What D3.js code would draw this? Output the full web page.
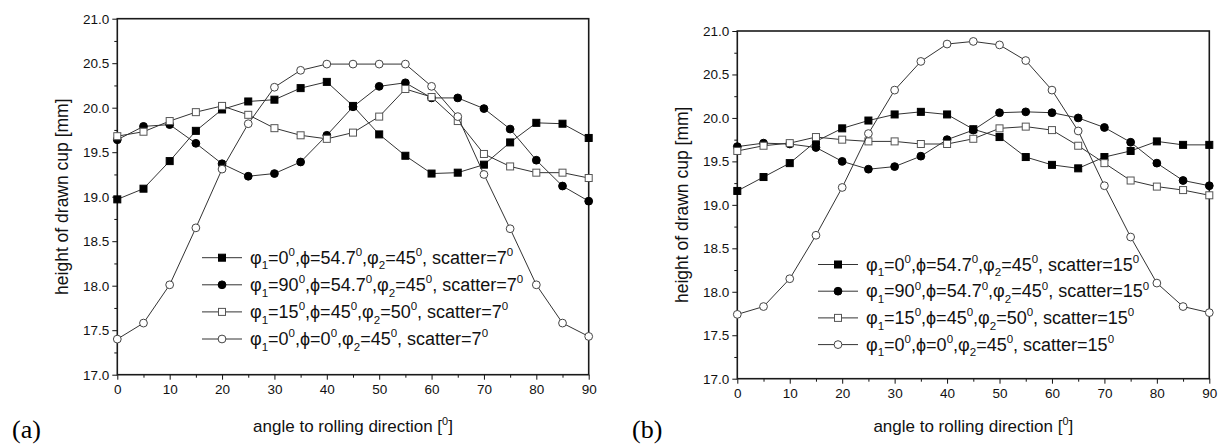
<!DOCTYPE html>
<html>
<head>
<meta charset="utf-8">
<script src="https://cdn.jsdelivr.net/npm/d3@7"></script>
<style>
  body { margin: 0; background: #fff; }
  svg { display: block; font-family: Arial, "Liberation Sans", sans-serif; }
</style>
</head>
<body>
<svg width="1223" height="447"></svg>
<script>
// angle to rolling direction, degrees
const angles = [0, 5, 10, 15, 20, 25, 30, 35, 40, 45, 50, 55, 60, 65, 70, 75, 80, 85, 90];

// (a) scatter = 7
const a_sq = [18.97, 19.09, 19.40, 19.74, 19.98, 20.07, 20.09, 20.22, 20.29, 20.02, 19.70, 19.46, 19.26, 19.27, 19.36, 19.61, 19.83, 19.82, 19.66];
const a_ci = [19.64, 19.79, 19.81, 19.60, 19.37, 19.23, 19.26, 19.39, 19.69, 20.01, 20.24, 20.28, 20.11, 20.11, 19.99, 19.76, 19.41, 19.12, 18.95];
const a_osq = [19.68, 19.73, 19.85, 19.95, 20.02, 19.92, 19.77, 19.69, 19.65, 19.72, 19.90, 20.21, 20.12, 19.85, 19.48, 19.34, 19.27, 19.27, 19.21];
const a_oci = [17.40, 17.58, 18.01, 18.65, 19.31, 19.82, 20.23, 20.42, 20.49, 20.49, 20.49, 20.49, 20.24, 19.90, 19.25, 18.64, 18.01, 17.58, 17.43];

// (b) scatter = 15
const b_sq = [19.16, 19.32, 19.48, 19.73, 19.88, 19.97, 20.04, 20.07, 20.04, 19.87, 19.78, 19.55, 19.46, 19.42, 19.55, 19.62, 19.73, 19.69, 19.69];
const b_ci = [19.67, 19.71, 19.70, 19.66, 19.50, 19.41, 19.44, 19.56, 19.75, 19.86, 20.06, 20.07, 20.06, 20.00, 19.89, 19.72, 19.48, 19.28, 19.22];
const b_osq = [19.62, 19.68, 19.71, 19.78, 19.75, 19.73, 19.73, 19.70, 19.70, 19.76, 19.88, 19.90, 19.86, 19.68, 19.48, 19.28, 19.21, 19.17, 19.11];
const b_oci = [17.74, 17.83, 18.15, 18.65, 19.20, 19.82, 20.32, 20.65, 20.85, 20.88, 20.84, 20.66, 20.32, 19.85, 19.22, 18.63, 18.10, 17.83, 17.76];

const xTicks = [0, 10, 20, 30, 40, 50, 60, 70, 80, 90];
const yTicks = [17.0, 17.5, 18.0, 18.5, 19.0, 19.5, 20.0, 20.5, 21.0];

// legend label pieces: [text, kind]
function legendParts(p1, phi, p2, scatter) {
  return [
    ["φ"], ["1", "sub"], ["=" + p1], ["0", "sup"],
    [",ϕ=" + phi], ["0", "sup"],
    [",φ"], ["2", "sub"], ["=" + p2], ["0", "sup"],
    [", scatter=" + scatter], ["0", "sup"],
  ];
}
const legendAngles = [
  ["0", "54.7", "45"],
  ["90", "54.7", "45"],
  ["15", "45", "50"],
  ["0", "0", "45"],
];
const markerTypes = ["square", "circle", "osquare", "ocircle"];

const panels = [
  { tag: "(a)", tagX: 12, left: 117.3, right: 588.7, top: 18.7, bottom: 374.7,
    legX: 202, legY: 257.7, legDy: 27.1, scatter: "7",
    series: [a_sq, a_ci, a_osq, a_oci] },
  { tag: "(b)", tagX: 632, left: 737.3, right: 1209.3, top: 31, bottom: 378.7,
    legX: 818, legY: 264.5, legDy: 26.7, scatter: "15",
    series: [b_sq, b_ci, b_osq, b_oci] },
];

const svg = d3.select("svg");

function richText(sel, parts, fs) {
  let cur = 0;
  parts.forEach(([t, kind]) => {
    const target = kind === "sup" ? -0.42 * fs : kind === "sub" ? 0.32 * fs : 0;
    sel.append("tspan")
      .attr("dy", target - cur)
      .attr("font-size", kind ? fs * 0.64 : fs)
      .text(t);
    cur = target;
  });
}

function drawMarker(g, type, x, y) {
  const s = 7, r = 3.9;
  if (type === "square" || type === "osquare") {
    g.append("rect")
      .attr("x", x - s / 2).attr("y", y - s / 2)
      .attr("width", s).attr("height", s)
      .attr("fill", type === "square" ? "#000" : "#fff")
      .attr("stroke", type === "square" ? "#000" : "#555")
      .attr("stroke-width", 1);
  } else {
    g.append("circle")
      .attr("cx", x).attr("cy", y).attr("r", r)
      .attr("fill", type === "circle" ? "#000" : "#fff")
      .attr("stroke", type === "circle" ? "#000" : "#444")
      .attr("stroke-width", 1);
  }
}

panels.forEach((p) => {
  const x = d3.scaleLinear().domain([0, 90]).range([p.left, p.right]);
  const y = d3.scaleLinear().domain([17, 21]).range([p.bottom, p.top]);
  const g = svg.append("g");

  // axes
  g.append("g").attr("transform", `translate(0,${p.bottom})`)
    .call(d3.axisBottom(x).tickValues(xTicks).tickFormat(d3.format("d")).tickSize(5).tickPadding(5));
  g.append("g").attr("transform", `translate(0,${p.bottom})`)
    .call(d3.axisBottom(x).tickValues(d3.range(5, 90, 10)).tickFormat("").tickSize(3));
  g.append("g").attr("transform", `translate(${p.left},0)`)
    .call(d3.axisLeft(y).tickValues(yTicks).tickFormat(d3.format(".1f")).tickSize(5).tickPadding(3));
  g.append("g").attr("transform", `translate(${p.left},0)`)
    .call(d3.axisLeft(y).tickValues(d3.range(17.25, 21, 0.5)).tickFormat("").tickSize(3));

  g.selectAll(".tick text").attr("font-size", 13.5).attr("fill", "#111")
    .attr("font-family", "Arial, 'Liberation Sans', sans-serif");
  g.selectAll(".tick line").attr("stroke", "#111");
  g.selectAll(".domain").remove();

  // frame
  g.append("rect")
    .attr("x", p.left).attr("y", p.top)
    .attr("width", p.right - p.left).attr("height", p.bottom - p.top)
    .attr("fill", "none").attr("stroke", "#1a1a1a").attr("stroke-width", 1.6);

  // axis titles
  const xt = g.append("text")
    .attr("x", (p.left + p.right) / 2).attr("y", 432)
    .attr("text-anchor", "middle").attr("fill", "#111");
  richText(xt, [["angle to rolling direction ["], ["0", "sup"], ["]"]], 17);

  g.append("text")
    .attr("transform", `translate(${p.left - 55},${(p.top + p.bottom) / 2}) rotate(-90)`)
    .attr("text-anchor", "middle").attr("dy", "0.35em")
    .attr("font-size", 17.5).attr("fill", "#111")
    .text("height of drawn cup [mm]");

  g.append("text")
    .attr("x", p.tagX).attr("y", 438)
    .attr("font-family", "'Liberation Serif', 'Times New Roman', serif")
    .attr("font-size", 26).attr("fill", "#000")
    .text(p.tag);

  // series
  const line = d3.line().x((d, i) => x(angles[i])).y((d) => y(d));
  p.series.forEach((vals, si) => {
    const sg = g.append("g");
    sg.append("path").datum(vals)
      .attr("d", line).attr("fill", "none")
      .attr("stroke", "#333").attr("stroke-width", 1);
    vals.forEach((v, i) => drawMarker(sg, markerTypes[si], x(angles[i]), y(v)));
  });

  // legend
  legendAngles.forEach((la, i) => {
    const ly = p.legY + i * p.legDy;
    const lg = g.append("g");
    lg.append("line")
      .attr("x1", p.legX).attr("x2", p.legX + 40)
      .attr("y1", ly).attr("y2", ly)
      .attr("stroke", "#333").attr("stroke-width", 1);
    drawMarker(lg, markerTypes[i], p.legX + 20, ly);
    const t = lg.append("text")
      .attr("x", p.legX + 48).attr("y", ly + 6)
      .attr("fill", "#111");
    richText(t, legendParts(la[0], la[1], la[2], p.scatter), 18);
  });
});
</script>
</body>
</html>
